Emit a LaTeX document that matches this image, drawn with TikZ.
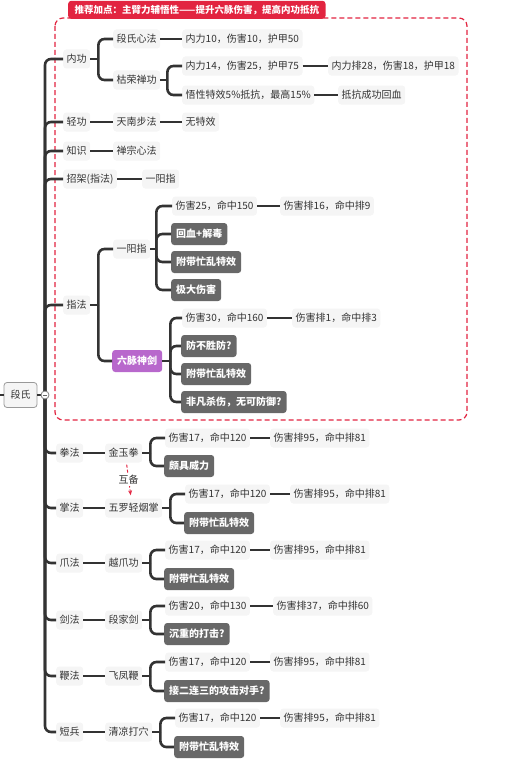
\documentclass[tikz,border=0pt]{standalone}
\usepackage{fontspec}
\setmainfont{Noto Sans CJK SC}
\definecolor{mltext}{RGB}{51,51,51}
\definecolor{mlbg}{RGB}{245,245,245}
\definecolor{mldark}{RGB}{104,104,104}
\definecolor{mlline}{RGB}{51,51,51}
\definecolor{mlpurple}{RGB}{184,104,204}
\definecolor{mlred}{RGB}{226,36,64}
\usetikzlibrary{arrows.meta}

\begin{document}
\begin{tikzpicture}[x=1pt, y=-1pt,
  topic/.style={fill=mlbg, text=mltext, rounded corners=3pt, anchor=west,
    inner xsep=3.5pt, inner ysep=0pt, minimum height=19pt,
    font=\fontsize{10}{12}\selectfont},
  darkbox/.style={topic, fill=mldark, text=white, inner xsep=5pt,
    minimum height=22pt, font=\fontsize{10}{12}\selectfont\bfseries},
  link/.style={draw=mlline, line width=2.6pt},
  fork/.style={link, rounded corners=6pt}]

\useasboundingbox (0,0) rectangle (505,768);

% Recommended box
\draw[mlred, line width=1.2pt, dash pattern=on 5pt off 3pt, rounded corners=8pt]
  (55,18) rectangle (467,420);
\node[fill=mlred, text=white, rounded corners=3pt, anchor=south west,
  minimum height=18pt, inner xsep=6.5pt, inner ysep=0pt,
  font=\fontsize{9.5}{11}\selectfont\bfseries]
  (tip) at (68,19) {推荐加点：主臂力辅悟性——提升六脉伤害，提高内功抵抗};

% Root
\coordinate (up) at (0,395);
\coordinate (fold) at (45,395);
\node[draw=black!40, fill=mlbg, text=mltext, rounded corners=3pt, line width=0.8pt,
  minimum width=33pt, minimum height=25pt, font=\fontsize{10}{12}\selectfont]
  (duan) at (20.5,395) {段氏};

% First level
\node[topic] (nei)   at (63,59)  {内功};
\node[topic] (qing)  at (63,122) {轻功};
\node[topic] (zhi)   at (63,151) {知识};
\node[topic] (zhao)  at (63,179) {招架(指法)};
\node[topic] (zhif)  at (63,305) {指法};
\node[topic] (quan)  at (56,453) {拳法};
\node[topic] (zhang) at (56,508) {掌法};
\node[topic] (zhua)  at (56,563) {爪法};
\node[topic] (jian)  at (56,620) {剑法};
\node[topic] (bian)  at (56,676) {鞭法};
\node[topic] (duanb) at (56,732) {短兵};

\draw[link, line width=1.8pt] (up) -- (duan.west);
\draw[link] (duan.east) -- (fold);
\foreach \c in {nei,qing,zhi,zhao,zhif,quan,zhang,zhua,jian,bian,duanb}
  \draw[fork] (fold) |- (\c.west);
\node[circle, draw=black!50, fill=white, line width=0.8pt, inner sep=0pt,
  minimum size=8pt] (foldc) at (fold) {};
\draw[black!60, line width=0.8pt] ([xshift=-2.2pt]foldc.center) -- ([xshift=2.2pt]foldc.center);

% 内功
\node[topic] (dsxf)  at (113,39)  {段氏心法};
\node[topic] (krcg)  at (113,80)  {枯荣禅功};
\node[topic] (dsxfA) at (182,39)  {内力10，伤害10，护甲50};
\node[topic] (krcgA) at (182,66)  {内力14，伤害25，护甲75};
\node[topic] (krcgB) at (328,66)  {内力排28，伤害18，护甲18};
\node[topic] (krcgC) at (182,95)  {悟性特效5\%抵抗，最高15\%};
\node[topic] (krcgD) at (338,95)  {抵抗成功回血};
\coordinate (fNei) at ([xshift=8pt]nei.east);
\coordinate (fKrcg) at ([xshift=7pt]krcg.east);
\draw[link] (nei.east) -- (fNei);
\foreach \c in {dsxf,krcg} \draw[fork] (fNei) |- (\c.west);
\draw[link] (dsxf.east) -- (dsxfA.west);
\draw[link] (krcg.east) -- (fKrcg);
\foreach \c in {krcgA,krcgC} \draw[fork] (fKrcg) |- (\c.west);
\draw[link] (krcgA.east) -- (krcgB.west);
\draw[link] (krcgC.east) -- (krcgD.west);

% 轻功, 知识, 招架
\node[topic] (tnbf)  at (113,122) {天南步法};
\node[topic] (tnbfA) at (182,122) {无特效};
\node[topic] (czxf)  at (113,151) {禅宗心法};
\node[topic] (yyz0)  at (142,179) {一阳指};
\draw[link] (qing.east) -- (tnbf.west);
\draw[link] (tnbf.east) -- (tnbfA.west);
\draw[link] (zhi.east) -- (czxf.west);
\draw[link] (zhao.east) -- (yyz0.west);

% 指法
\node[topic] (yyz)   at (113,249) {一阳指};
\node[topic, fill=mlpurple, text=white, minimum height=22pt, inner xsep=5pt,
  font=\fontsize{10}{12}\selectfont\bfseries] (lmsj) at (112,361) {六脉神剑};
\node[topic]   (yyzA)  at (172,206) {伤害25，命中150};
\node[topic]   (yyzB)  at (280,206) {伤害排16，命中排9};
\node[darkbox] (yyzC)  at (171,234) {回血+解毒};
\node[darkbox] (yyzD)  at (171,262) {附带忙乱特效};
\node[darkbox] (yyzE)  at (171,290) {极大伤害};
\node[topic]   (lmsjA) at (182,318) {伤害30，命中160};
\node[topic]   (lmsjB) at (292,318) {伤害排1，命中排3};
\node[darkbox] (lmsjC) at (181,346) {防不胜防?};
\node[darkbox] (lmsjD) at (181,374) {附带忙乱特效};
\node[darkbox] (lmsjE) at (181,402) {非凡杀伤，无可防御?};
\coordinate (fZhif) at ([xshift=8pt]zhif.east);
\coordinate (fYyz) at ([xshift=6pt]yyz.east);
\coordinate (fLmsj) at ([xshift=8pt]lmsj.east);
\draw[link] (zhif.east) -- (fZhif);
\foreach \c in {yyz,lmsj} \draw[fork] (fZhif) |- (\c.west);
\draw[link] (yyz.east) -- (fYyz);
\foreach \c in {yyzA,yyzC,yyzD,yyzE} \draw[fork] (fYyz) |- (\c.west);
\draw[link] (yyzA.east) -- (yyzB.west);
\draw[link] (lmsj.east) -- (fLmsj);
\foreach \c in {lmsjA,lmsjC,lmsjD,lmsjE} \draw[fork] (fLmsj) |- (\c.west);
\draw[link] (lmsjA.east) -- (lmsjB.west);

% 拳法
\node[topic]   (jyq)  at (105,453) {金玉拳};
\node[topic]   (jyqA) at (165,438) {伤害17，命中120};
\node[topic]   (jyqB) at (270,438) {伤害排95，命中排81};
\node[darkbox] (jyqC) at (164,466) {颇具威力};
\coordinate (fJyq) at ([xshift=8pt]jyq.east);
\draw[link] (quan.east) -- (jyq.west);
\draw[link] (jyq.east) -- (fJyq);
\foreach \c in {jyqA,jyqC} \draw[fork] (fJyq) |- (\c.west);
\draw[link] (jyqA.east) -- (jyqB.west);

% 掌法
\node[topic]   (wlq)  at (105,508) {五罗轻烟掌};
\node[topic]   (wlqA) at (185,494) {伤害17，命中120};
\node[topic]   (wlqB) at (290,494) {伤害排95，命中排81};
\node[darkbox] (wlqC) at (184,523) {附带忙乱特效};
\coordinate (fWlq) at ([xshift=8pt]wlq.east);
\draw[link] (zhang.east) -- (wlq.west);
\draw[link] (wlq.east) -- (fWlq);
\foreach \c in {wlqA,wlqC} \draw[fork] (fWlq) |- (\c.west);
\draw[link] (wlqA.east) -- (wlqB.west);

% 互备
\draw[mlred, line width=1pt, dash pattern=on 3pt off 2pt, -{Stealth[length=5pt,width=4pt]}]
  ([xshift=3pt,yshift=-2pt]jyq.south) -- node[fill=white, text=mltext, inner sep=1pt,
  font=\fontsize{10}{12}\selectfont] {互备} ([xshift=-3pt,yshift=3pt]wlq.north);

% 爪法
\node[topic]   (yzg)  at (105,563) {越爪功};
\node[topic]   (yzgA) at (165,550) {伤害17，命中120};
\node[topic]   (yzgB) at (270,550) {伤害排95，命中排81};
\node[darkbox] (yzgC) at (164,579) {附带忙乱特效};
\coordinate (fYzg) at ([xshift=8pt]yzg.east);
\draw[link] (zhua.east) -- (yzg.west);
\draw[link] (yzg.east) -- (fYzg);
\foreach \c in {yzgA,yzgC} \draw[fork] (fYzg) |- (\c.west);
\draw[link] (yzgA.east) -- (yzgB.west);

% 剑法
\node[topic]   (djj)  at (105,620) {段家剑};
\node[topic]   (djjA) at (165,606) {伤害20，命中130};
\node[topic]   (djjB) at (273,606) {伤害排37，命中排60};
\node[darkbox] (djjC) at (164,634) {沉重的打击?};
\coordinate (fDjj) at ([xshift=8pt]djj.east);
\draw[link] (jian.east) -- (djj.west);
\draw[link] (djj.east) -- (fDjj);
\foreach \c in {djjA,djjC} \draw[fork] (fDjj) |- (\c.west);
\draw[link] (djjA.east) -- (djjB.west);

% 鞭法
\node[topic]   (ffb)  at (105,676) {飞凤鞭};
\node[topic]   (ffbA) at (165,662) {伤害17，命中120};
\node[topic]   (ffbB) at (270,662) {伤害排95，命中排81};
\node[darkbox] (ffbC) at (164,691) {接二连三的攻击对手?};
\coordinate (fFfb) at ([xshift=8pt]ffb.east);
\draw[link] (bian.east) -- (ffb.west);
\draw[link] (ffb.east) -- (fFfb);
\foreach \c in {ffbA,ffbC} \draw[fork] (fFfb) |- (\c.west);
\draw[link] (ffbA.east) -- (ffbB.west);

% 短兵
\node[topic]   (qldx)  at (105,732) {清凉打穴};
\node[topic]   (qldxA) at (175,718) {伤害17，命中120};
\node[topic]   (qldxB) at (280,718) {伤害排95，命中排81};
\node[darkbox] (qldxC) at (174,747) {附带忙乱特效};
\coordinate (fQldx) at ([xshift=8pt]qldx.east);
\draw[link] (duanb.east) -- (qldx.west);
\draw[link] (qldx.east) -- (fQldx);
\foreach \c in {qldxA,qldxC} \draw[fork] (fQldx) |- (\c.west);
\draw[link] (qldxA.east) -- (qldxB.west);

\end{tikzpicture}
\end{document}
